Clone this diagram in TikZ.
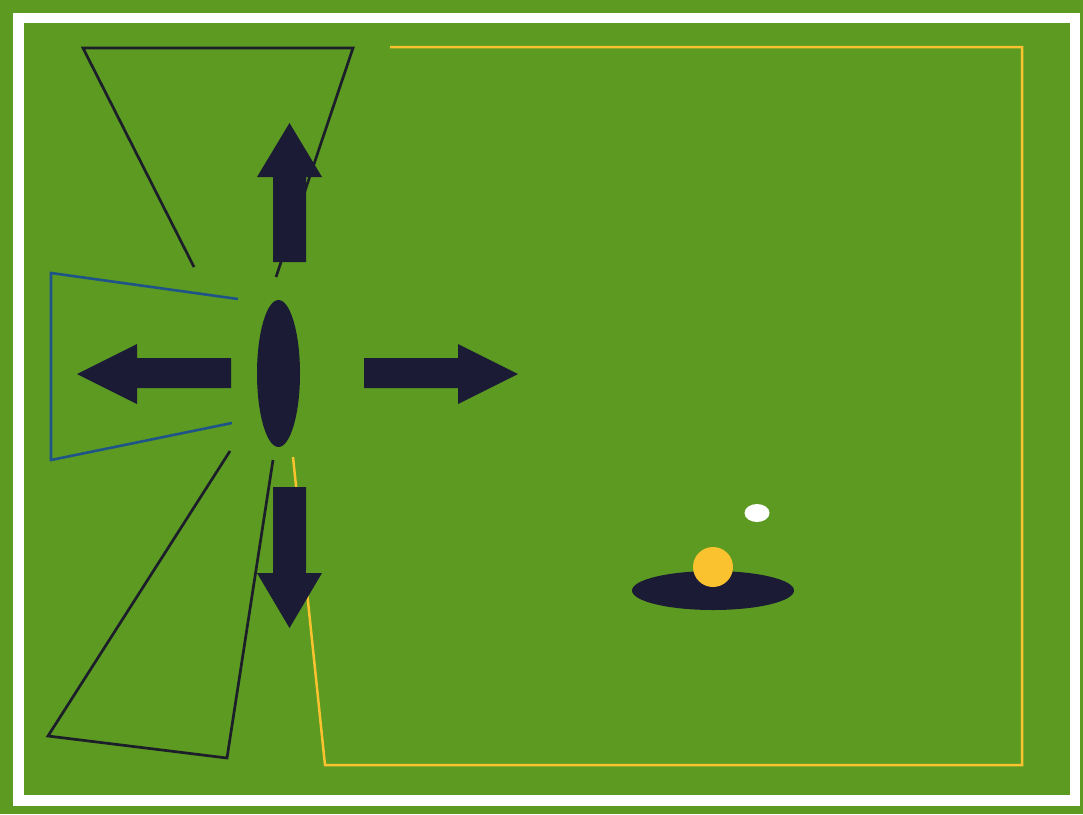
\documentclass[tikz,border=0pt]{standalone}
\usepackage{tikz}
\definecolor{pitch}{HTML}{5C9A22}
\definecolor{navy}{HTML}{1B1B36}
\definecolor{gold}{HTML}{F9C22E}
\definecolor{zone}{HTML}{1F5488}
\definecolor{edge}{HTML}{1C1F2A}

\begin{document}
\begin{tikzpicture}[x=1pt, y=-1pt,
  cone/.style={draw=edge, line width=2.7pt, line join=miter},
  lane/.style={draw=zone, line width=2.6pt},
  track/.style={draw=gold, line width=2.5pt},
  blk/.style={fill=navy}]
  % field with white border
  \fill[pitch] (0,0) rectangle (1083,814);
  \fill[white] (13,13) rectangle (1080,806);
  \fill[pitch] (24,23) rectangle (1070,795);
  \useasboundingbox (0,0) rectangle (1083,814);
  % outlined zones round the player
  \draw[cone] (194,267) -- (83,48) -- (353,48) -- (276,277);
  \draw[lane] (238,299) -- (51,273) -- (51,460) -- (232,423);
  \draw[cone] (230,451) -- (48,736) -- (227,758) -- (273,460);
  \draw[track] (390,47) -- (1022,47) -- (1022,765) -- (325,765) -- (293,457);
  % player
  \fill[navy] (278.5,373.5) ellipse [x radius=21.5, y radius=73.5];
  % movement arrows
  \fill[blk] (273,262) -- (273,177) -- (257,177) -- (289.5,123) -- (322,177) -- (306,177) -- (306,262) -- cycle;
  \fill[blk] (273,487) -- (273,573) -- (257,573) -- (289.5,628) -- (322,573) -- (306,573) -- (306,487) -- cycle;
  \fill[blk] (231,358) -- (137,358) -- (137,344) -- (77,374) -- (137,404) -- (137,388) -- (231,388) -- cycle;
  \fill[blk] (364,358) -- (458,358) -- (458,344) -- (518,374) -- (458,404) -- (458,388) -- (364,388) -- cycle;
  % ball and hole
  \fill[navy] (713,590.5) ellipse [x radius=81, y radius=19.5];
  \fill[gold] (713,567) circle (20);
  \fill[white] (757,513) ellipse [x radius=12.5, y radius=9];
\end{tikzpicture}
\end{document}
